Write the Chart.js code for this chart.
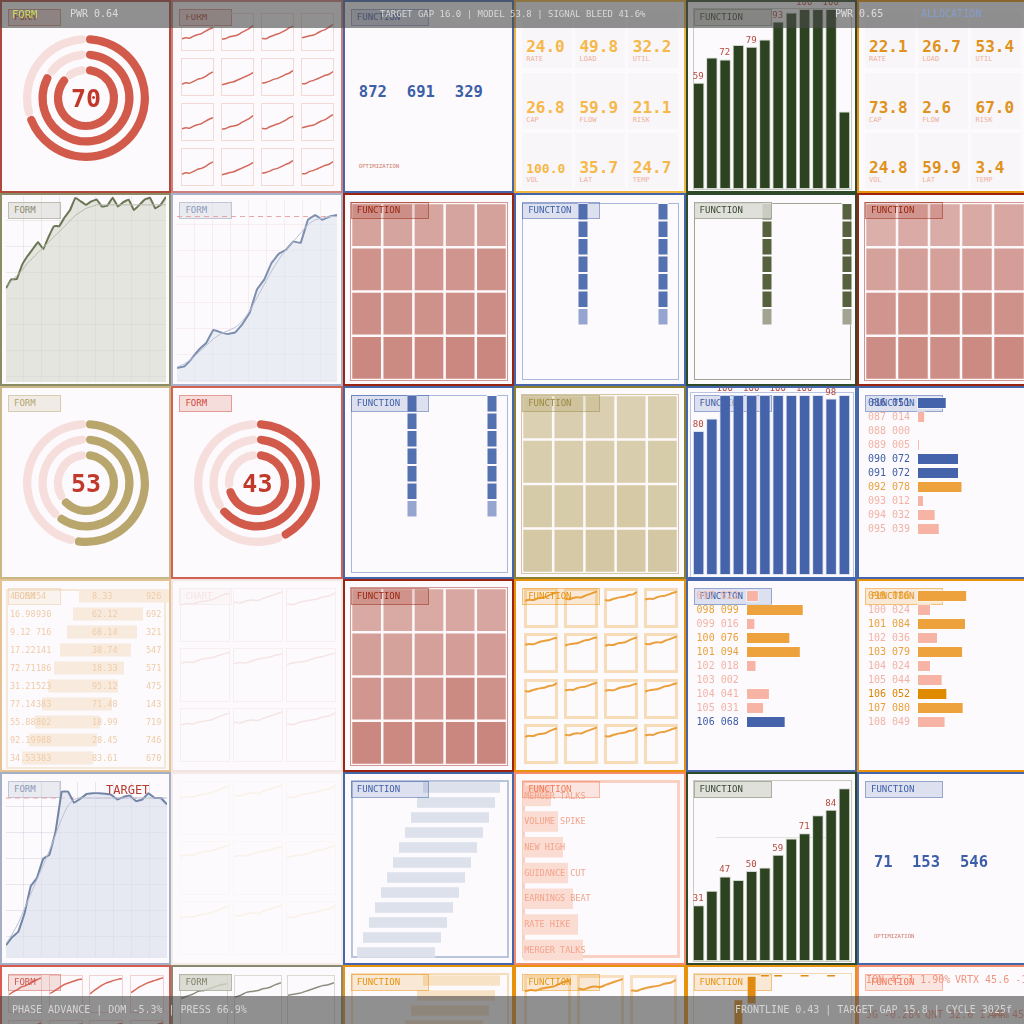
<!DOCTYPE html>
<html>
<head>
<meta charset="utf-8">
<title>Ops wall</title>
<script src="https://cdn.jsdelivr.net/npm/chart.js@4.4.1/dist/chart.umd.min.js"></script>
<style>
  html, body { margin: 0; padding: 0; }
  body { width: 1024px; height: 1024px; overflow: hidden; background: #f7f4f7; font-family: 'DejaVu Sans Mono', monospace; }
  #board { position: relative; width: 1024px; height: 1024px; overflow: hidden; }
  .panel { position: absolute; box-sizing: border-box; border: 2px solid #999; background: #fcfafc; overflow: hidden; }
  .body { position: absolute; left: 0; top: 0; right: 0; bottom: 0; }
  .tag { position: absolute; left: 6px; top: 7px; height: 17px; box-sizing: border-box; border: 1px solid; font-size: 9px; line-height: 15px; padding-left: 5px; white-space: nowrap; }
  .txt { position: absolute; white-space: nowrap; line-height: 1; }
  .strip { position: absolute; left: 0; width: 1024px; height: 28px; background: rgba(74, 74, 74, 0.6); }
</style>
</head>
<body>
<div id="board"></div>
<script>
// ---------- data ----------
const gaugeA = [70, 84, 88];
const gaugeB = [53, 61, 65];
const gaugeC = [43, 65, 72];

const barSlots = ['01', '02', '03', '04', '05', '06', '07', '08', '09', '10', '11', '12'];
const powerBars = [59, 73, 72, 80, 79, 83, 93, 98, 100, 100, 100, 43];
const loadBars = [80, 87, 100, 100, 100, 100, 100, 100, 100, 100, 98, 100];
const rampBars = [31, 39, 47, 45, 50, 52, 59, 68, 71, 81, 84, 96];
const stepFrom = [0, 22, 40, 60, 83, 98, 98, 99, 98, 99, 98, 99];
const stepTo = [22, 40, 60, 86, 99, 100, 100, 100, 100, 100, 100, 100];

const kpiNames = ['RATE', 'LOAD', 'UTIL', 'CAP', 'FLOW', 'RISK', 'VOL', 'LAT', 'TEMP'];
const kpiLeft = [24.0, 49.8, 32.2, 26.8, 59.9, 21.1, 100.0, 35.7, 24.7];
const kpiRight = [22.1, 26.7, 53.4, 73.8, 2.6, 67.0, 24.8, 59.9, 3.4];
const optTop = [872, 691, 329];
const optBottom = [71, 153, 546];

const formLine = [53, 58, 58, 66, 71, 75, 79, 75, 82, 88, 88, 93, 97, 104, 102, 100, 102, 103, 99, 99.5, 104, 99, 101.5, 103, 97, 100, 103, 104, 98, 100, 104.5];
const formTrend = [54, 57, 60, 63, 67, 70, 73, 76, 79, 82, 85, 88, 91, 94, 96, 98, 99, 100, 100, 100, 100, 100, 100, 100, 100, 100, 100, 100, 100, 100, 100];
const funcLine = [8.5, 9.5, 14, 19.5, 23.5, 31.5, 30, 29, 30, 35, 42, 56, 62, 72, 77.5, 80, 85, 84, 98, 101, 98, 100, 101];
const funcTrend = [9, 11, 14, 18, 22, 26, 29, 31, 33, 37, 43, 51, 59, 67, 74, 80, 85, 90, 95, 98, 99, 100, 100];
const rampLine = [8, 13, 16.5, 28, 45, 50, 62, 64.5, 79, 104, 104, 97, 99.5, 102.5, 103, 103, 102.7, 102, 99, 100.6, 101.5, 98, 99, 103, 100, 100, 96];
const rampTrend = [9, 15, 22, 31, 40, 49, 58, 67, 77, 87, 95, 99, 100, 100, 100, 100, 100, 100, 100, 100, 100, 100, 100, 100, 100, 100, 100];
const TARGET = 100;

const heatA = [[0.42, 0.40, 0.38, 0.40, 0.44], [0.66, 0.60, 0.62, 0.64, 0.70], [0.74, 0.70, 0.68, 0.72, 0.76], [0.84, 0.80, 0.82, 0.84, 0.86]];
const heatB = [[0.22, 0.28, 0.26, 0.30, 0.34], [0.44, 0.48, 0.46, 0.52, 0.50], [0.64, 0.66, 0.70, 0.72, 0.68], [0.76, 0.78, 0.74, 0.80, 0.82]];
const heatC = [[0.30, 0.32, 0.30, 0.34, 0.36], [0.48, 0.44, 0.46, 0.50, 0.52], [0.62, 0.64, 0.60, 0.80, 0.68], [0.84, 0.82, 0.80, 0.86, 0.88]];
const heatK = [[0.30, 0.34, 0.32, 0.30, 0.36], [0.40, 0.38, 0.42, 0.40, 0.44], [0.46, 0.44, 0.48, 0.50, 0.46], [0.52, 0.50, 0.54, 0.52, 0.56]];

const stripCounts = [7, 7];

const listAIds = ['086', '087', '088', '089', '090', '091', '092', '093', '094', '095'];
const listAVals = [51, 14, 0, 5, 72, 72, 78, 12, 32, 39];
const listAKinds = ['blue', 'pink', 'pink', 'pink', 'blue', 'blue', 'amber', 'pink', 'pink', 'pink'];
const listBIds = ['097', '098', '099', '100', '101', '102', '103', '104', '105', '106'];
const listBVals = [22, 99, 16, 76, 94, 18, 2, 41, 31, 68];
const listBKinds = ['pink', 'amber', 'pink', 'amber', 'amber', 'pink', 'pink', 'pink', 'pink', 'blue'];
const listCIds = ['099', '100', '101', '102', '103', '104', '105', '106', '107', '108'];
const listCVals = [86, 24, 84, 36, 79, 24, 44, 52, 80, 49];
const listCKinds = ['amber', 'pink', 'amber', 'pink', 'amber', 'pink', 'pink', 'deep', 'amber', 'pink'];

const tblRate = ['43.54', '16.98', '9.12', '17.22', '72.71', '31.21', '77.14', '55.88', '92.19', '34.53'];
const tblCount = ['54', '930', '716', '141', '186', '523', '383', '802', '988', '383'];
const tblScore = ['8.33', '62.12', '68.14', '38.74', '18.33', '95.12', '71.48', '18.99', '28.45', '83.61'];
const tblUnits = ['926', '692', '321', '547', '571', '475', '143', '719', '746', '670'];
const tblFrom = [79, 73, 67, 60, 54, 48, 42, 35, 29, 22];
const tblTo = [171, 143, 137, 131, 124, 118, 112, 100, 97, 93];

const ganttFrom = [80, 74, 68, 62, 56, 50, 44, 38, 32, 26, 20, 14];
const ganttTo = [157, 152, 146, 140, 134, 128, 122, 116, 110, 104, 98, 92];

const eventNames = ['MERGER TALKS', 'VOLUME SPIKE', 'NEW HIGH', 'GUIDANCE CUT', 'EARNINGS BEAT', 'RATE HIKE', 'MERGER TALKS'];
const eventImpact = [28, 35, 40, 45, 50, 55, 60];

const sparkRed = [
  [30, 33, 32, 38, 42, 45, 52, 58, 63], [29, 31, 36, 38, 41, 48, 54, 60, 69],
  [31, 30, 36, 40, 44, 49, 55, 62, 67], [33, 36, 39, 41, 47, 53, 57, 64, 72],
  [29, 33, 32, 37, 43, 46, 51, 59, 65], [27, 30, 34, 36, 41, 46, 51, 56, 63],
  [32, 34, 38, 43, 46, 51, 57, 61, 69], [30, 31, 37, 40, 45, 50, 55, 58, 66]
];
const sparkRedLate = [
  [48, 56, 62, 70, 74, 80, 86, 92, 97], [52, 58, 66, 74, 80, 84, 88, 92, 94],
  [50, 60, 68, 76, 82, 86, 90, 93, 95], [54, 62, 70, 76, 82, 86, 90, 94, 98]
];
const sparkAmber = [
  [70, 73, 72, 76, 78, 80, 85, 90, 93], [76, 74, 78, 80, 79, 84, 88, 92, 96],
  [72, 71, 75, 78, 80, 82, 86, 88, 94], [74, 76, 75, 80, 83, 84, 88, 92, 95],
  [73, 75, 74, 78, 82, 84, 86, 90, 92], [71, 74, 76, 77, 81, 85, 87, 91, 94]
];
const sparkGray = [
  [55, 60, 64, 70, 72, 76, 80, 84, 86], [58, 62, 68, 70, 72, 76, 78, 84, 88],
  [62, 64, 66, 70, 74, 78, 82, 84, 88]
];

const tickerTop = ['ION 45.1 1.90%', 'VRTX 45.6 -1.12%'];
const tickerLow = ['JG -0.28%', 'QNT 32.6 1.44%', 'AMK 45.2'];

// ---------- layout helpers ----------
const CW = 171.4, RH = 193;
const board = document.getElementById('board');
Chart.defaults.font.family = "'DejaVu Sans Mono', monospace";

function rgba(hex, a) {
  const n = parseInt(hex.slice(1), 16);
  return `rgba(${n >> 16}, ${(n >> 8) & 255}, ${n & 255}, ${a})`;
}
function shade(hex, v) {
  const n = parseInt(hex.slice(1), 16);
  const t = 0.36 + 0.34 * v;
  const mix = c => Math.round(255 - (255 - c) * t);
  return `rgb(${mix(n >> 16)}, ${mix((n >> 8) & 255)}, ${mix(n & 255)})`;
}

function makePanel(row, col, color, fade) {
  const p = document.createElement('div');
  p.className = 'panel';
  p.style.left = (col * CW) + 'px';
  p.style.top = (row * RH) + 'px';
  p.style.width = CW + 'px';
  p.style.height = RH + 'px';
  p.style.borderColor = color;
  board.appendChild(p);
  const b = document.createElement('div');
  b.className = 'body';
  if (fade != null) b.style.opacity = fade;
  p.appendChild(b);
  return b;
}
function place(node, x, y, w, h) {
  node.style.position = 'absolute';
  node.style.left = (x - 2) + 'px';
  node.style.top = (y - 2) + 'px';
  if (w != null) node.style.width = w + 'px';
  if (h != null) node.style.height = h + 'px';
}
function addCanvas(p, x, y, w, h) {
  const c = document.createElement('canvas');
  c.width = Math.round(w);
  c.height = Math.round(h);
  place(c, x, y, Math.round(w), Math.round(h));
  p.appendChild(c);
  return c;
}
function addText(p, s, x, y, size, color, weight) {
  const t = document.createElement('div');
  t.className = 'txt';
  t.textContent = s;
  place(t, x, y);
  t.style.fontSize = size + 'px';
  t.style.color = color;
  if (weight) t.style.fontWeight = weight;
  p.appendChild(t);
  return t;
}
function addTag(p, label, color, bg, textColor) {
  const t = document.createElement('div');
  t.className = 'tag';
  t.textContent = label;
  t.style.width = (label.length > 5 ? 78 : 53) + 'px';
  t.style.color = textColor || color;
  t.style.borderColor = rgba(color, 0.45);
  t.style.background = bg || rgba(color, 0.16);
  p.appendChild(t);
}
function addBox(p, x, y, w, h, border, fill) {
  const d = document.createElement('div');
  place(d, x, y, w, h);
  d.style.boxSizing = 'border-box';
  if (border) d.style.border = border;
  if (fill) d.style.background = fill;
  p.appendChild(d);
  return d;
}
function opts(extra) {
  return Object.assign({
    responsive: false, animation: false, devicePixelRatio: 1, events: [],
    layout: { padding: 0 },
    plugins: { legend: { display: false }, tooltip: { enabled: false } }
  }, extra);
}

// ---------- chart builders ----------
function drawGauge(p, vals, color, cx, cy) {
  const c = addCanvas(p, cx - 66, cy - 66, 132, 132);
  const datasets = [];
  vals.forEach((v, i) => {
    datasets.push({ data: [v, 100 - v], backgroundColor: [color, '#f6dedc'], borderWidth: 0, borderRadius: 4, weight: 8 });
    if (i < vals.length - 1) datasets.push({ data: [0, 100], backgroundColor: ['rgba(0,0,0,0)', 'rgba(0,0,0,0)'], borderWidth: 0, weight: 7 });
  });
  new Chart(c, { type: 'doughnut', data: { labels: ['value', 'rest'], datasets }, options: opts({ cutout: 25, radius: 63 }) });
  const t = addText(p, String(vals[0]), cx, cy, 25, '#c0392b', 'bold');
  t.style.transform = 'translate(-50%, -50%)';
}

function drawBars(p, vals, color, edge) {
  const c = addCanvas(p, 6, 9, 159, 180);
  const chart = new Chart(c, {
    type: 'bar',
    data: { labels: barSlots, datasets: [{ data: vals, backgroundColor: color, borderColor: edge, borderWidth: 1, borderSkipped: false, barPercentage: 0.87, categoryPercentage: 1 }] },
    options: opts({ scales: { x: { display: false }, y: { display: false, min: 0, max: 100 } } })
  });
  const meta = chart.getDatasetMeta(0);
  vals.forEach((v, i) => {
    if (i % 2) return;
    const bar = meta.data[i];
    const t = addText(p, String(v), 6 + bar.x, 9 + bar.y - 11, 9, '#b5483c');
    t.style.transform = 'translateX(-50%)';
  });
}

function drawSteps(p, from, to, color) {
  const c = addCanvas(p, 6, 9, 159, 180);
  new Chart(c, {
    type: 'bar',
    data: { labels: barSlots, datasets: [{ data: from.map((f, i) => [f, to[i]]), backgroundColor: color, borderColor: 'rgba(255,255,255,0.5)', borderWidth: 1, borderSkipped: false, barPercentage: 0.75, categoryPercentage: 1 }] },
    options: opts({ scales: { x: { display: false }, y: { display: false, min: 0, max: 100 } } })
  });
}

function drawHeat(p, rows, base, x, y, w, h) {
  addBox(p, x - 1, y - 1, w + 2, h + 2, '1px solid ' + rgba(base, 0.55));
  const c = addCanvas(p, x, y, w, h);
  const datasets = rows.slice().reverse().map(r => ({
    data: r.map(() => 1), backgroundColor: r.map(v => shade(base, v)),
    borderColor: '#fdf8fa', borderWidth: 1.6, borderSkipped: false, barPercentage: 1, categoryPercentage: 1
  }));
  new Chart(c, {
    type: 'bar',
    data: { labels: rows[0].map((_, i) => 'C' + i), datasets },
    options: opts({ scales: { x: { display: false, stacked: true }, y: { display: false, stacked: true, min: 0, max: rows.length } } })
  });
}

function drawStrips(p, counts, color, faded, x, y) {
  const c = addCanvas(p, x, y, 160, 175);
  const maxN = Math.max(...counts);
  const datasets = [];
  for (let k = 0; k < maxN; k++) {
    datasets.push({ data: counts.map(n => (k < n ? 1 : 0)), backgroundColor: k === maxN - 1 ? faded : color, borderColor: '#fcfafc', borderWidth: 1, borderSkipped: false, barPercentage: 0.1375, categoryPercentage: 1 });
  }
  new Chart(c, {
    type: 'bar',
    data: { labels: counts.map((_, i) => 'S' + i), datasets },
    options: opts({ scales: { x: { display: false, stacked: true }, y: { display: false, stacked: true, reverse: true, min: 0, max: 10 } } })
  });
}

const LIST_FILL = { blue: '#4563ab', pink: '#f7b3a4', amber: '#eea23e', deep: '#e08a00' };
const LIST_TEXT = { blue: '#3d5ea8', pink: '#f2b3a6', amber: '#e9a23c', deep: '#d98600' };
function drawList(p, ids, vals, kinds) {
  const c = addCanvas(p, 60, 9.5, 70, 140);
  new Chart(c, {
    type: 'bar',
    data: { labels: ids, datasets: [{ data: vals, backgroundColor: kinds.map(k => LIST_FILL[k]), borderColor: 'rgba(255,255,255,0.55)', borderWidth: 1, borderSkipped: false, barPercentage: 0.85, categoryPercentage: 1 }] },
    options: opts({ indexAxis: 'y', scales: { x: { display: false, min: 0, max: 120 }, y: { display: false } } })
  });
  ids.forEach((id, i) => addText(p, id + ' ' + String(vals[i]).padStart(3, '0'), 11, 11.5 + 14 * i, 10, LIST_TEXT[kinds[i]]));
}

function drawLine(p, x, y, w, h, main, trend, o) {
  const grid = addBox(p, x, y, w, h);
  grid.style.backgroundImage = `linear-gradient(to right, ${o.grid} 1px, transparent 1px), linear-gradient(to bottom, ${o.grid} 1px, transparent 1px)`;
  grid.style.backgroundSize = '18px 26px';
  grid.style.backgroundPosition = '17px 24px';
  const c = addCanvas(p, x, y, w, h);
  const datasets = [
    { data: trend, borderColor: o.trend, borderWidth: 1, pointRadius: 0, tension: 0.3, fill: false },
    { data: main, borderColor: o.color, borderWidth: 2, pointRadius: 0, tension: 0.05, fill: 'origin', backgroundColor: o.fill }
  ];
  if (o.target) datasets.push({ data: main.map(() => TARGET), borderColor: '#e9a4a2', borderWidth: 1, borderDash: [5, 4], pointRadius: 0, fill: false });
  new Chart(c, {
    type: 'line',
    data: { labels: main.map((_, i) => i), datasets },
    options: opts({ scales: { x: { display: false }, y: { display: false, min: 0, max: o.max } } })
  });
}

function drawTiles(p, o) {
  let k = 0;
  for (let r = 0; r < o.rows; r++) {
    for (let c = 0; c < o.cols; c++) {
      const x = o.x0 + c * o.gx, y = o.y0 + r * o.gy;
      addBox(p, x, y, o.tw, o.th, o.boxW + 'px solid ' + o.box);
      const cv = addCanvas(p, x + 1, y + 2, o.tw - 2, o.th - 4);
      const s = o.series[k++ % o.series.length];
      new Chart(cv, {
        type: 'line',
        data: { labels: s.map((_, i) => i), datasets: [{ data: s, borderColor: o.color, borderWidth: o.lineW || 1.5, pointRadius: 0, tension: 0.2, fill: false }] },
        options: opts({ scales: { x: { display: false }, y: { display: false, min: 0, max: 100 } } })
      });
    }
  }
}

function drawGantt(p, from, to, color) {
  const c = addCanvas(p, 0, 7.5, 171, 180);
  new Chart(c, {
    type: 'bar',
    data: { labels: from.map((_, i) => 'T' + i), datasets: [{ data: from.map((f, i) => [f, to[i]]), backgroundColor: color, borderWidth: 0, barPercentage: 0.7, categoryPercentage: 1 }] },
    options: opts({ indexAxis: 'y', scales: { x: { display: false, min: 0, max: 171 }, y: { display: false } } })
  });
}

function drawKpiGrid(p, vals, valColor, nameColor) {
  vals.forEach((v, i) => {
    const col = i % 3, row = Math.floor(i / 3);
    addBox(p, 8 + col * 53, 12 + row * 60.5, 50, 56, null, '#f8f6f8');
    const s = v.toFixed(1);
    const size = Math.min(16, Math.floor(40 / (s.length * 0.602)));
    addText(p, s, 12 + col * 53.3, 47 + row * 60.5 - size / 2, size, valColor, 'bold');
    addText(p, kpiNames[i], 12 + col * 53.3, 56 + row * 60.5, 7, nameColor);
  });
}

// ---------- row 0 ----------
let p = makePanel(0, 0, '#b0483c');
addTag(p, 'FORM', '#c0392b');
drawGauge(p, gaugeA, '#d25a4b', 86, 98);

p = makePanel(0, 1, '#d08078');
addTag(p, 'FORM', '#c0392b');
drawTiles(p, { cols: 4, rows: 4, x0: 10, y0: 13, gx: 40, gy: 45, tw: 33, th: 38, series: sparkRed, color: '#d2695c', box: '#f4d8d4', boxW: 1.5 });

p = makePanel(0, 2, '#4566aa');
addTag(p, 'FUNCTION', '#3d5ea8');
[16, 64, 112].forEach((x, i) => addText(p, String(optTop[i]), x, 85, 15.5, '#3d5ea8', 'bold'));
addText(p, 'OPTIMIZATION', 16, 164, 5.6, '#d07a6c');

p = makePanel(0, 3, '#f0b440');
drawKpiGrid(p, kpiLeft, '#f6b849', '#eeb0a0');

p = makePanel(0, 4, '#2f4a28');
addBox(p, 7, 8, 159, 182, '1px solid #c8ccc0');
drawBars(p, powerBars, '#2c4220', 'rgba(200,210,195,0.8)');
addTag(p, 'FUNCTION', '#6a7060', 'rgba(218,220,212,0.88)', '#3c4634');

p = makePanel(0, 5, '#e8900c');
drawKpiGrid(p, kpiRight, '#e0921c', '#eeb0a0');

// ---------- row 1 ----------
p = makePanel(1, 0, '#8c8c64');
addTag(p, 'FORM', '#8a8a70');
drawLine(p, 6, 3, 160, 186, formLine, formTrend, { color: '#6b7655', trend: '#b4b8a8', fill: 'rgba(210,212,198,0.55)', grid: 'rgba(170,170,160,0.2)', max: 105 });
addText(p, '100.0', 13, 206, 12, '#c0392b', 'bold');

p = makePanel(1, 1, '#a8b0cc');
addTag(p, 'FORM', '#8d9ab8');
drawLine(p, 6, 7, 160, 182, funcLine, funcTrend, { color: '#7d8fb0', trend: '#b8c0d4', fill: 'rgba(220,225,237,0.55)', grid: 'rgba(232,200,208,0.25)', max: 110, target: true });
addText(p, 'TARGET', 106, 203, 12, '#b83c30');

p = makePanel(1, 2, '#9a2410');
drawHeat(p, heatA, '#ad473b', 8, 10, 156, 177);
addTag(p, 'FUNCTION', '#9a2410');

p = makePanel(1, 3, '#4566aa');
addBox(p, 8, 10, 157, 177, '1px solid #a8b8dc');
drawStrips(p, stripCounts, '#5471b0', '#95a5cf', 29, 10);
addTag(p, 'FUNCTION', '#3d5ea8');

p = makePanel(1, 4, '#2f4a28');
addBox(p, 8, 10, 157, 177, '1px solid #a0a490');
drawStrips(p, stripCounts, '#56613e', '#a2a492', 41, 10);
addTag(p, 'FUNCTION', '#6a7060', 'rgba(218,220,212,0.88)', '#3c4634');

p = makePanel(1, 5, '#9a2410');
drawHeat(p, heatB, '#ad473b', 8, 10, 160, 177);
addTag(p, 'FUNCTION', '#9a2410');

// ---------- row 2 ----------
p = makePanel(2, 0, '#c8b888');
addTag(p, 'FORM', '#b5a66e');
drawGauge(p, gaugeB, '#b9a66c', 86, 97);

p = makePanel(2, 1, '#d46050');
addTag(p, 'FORM', '#d24a3a');
drawGauge(p, gaugeC, '#d25a4b', 86, 97);

p = makePanel(2, 2, '#4566aa');
addBox(p, 8, 9, 157, 178, '1px solid #a8b8dc');
drawStrips(p, stripCounts, '#5471b0', '#95a5cf', 29, 9);
addTag(p, 'FUNCTION', '#3d5ea8');

p = makePanel(2, 3, '#8a8030');
drawHeat(p, heatK, '#b09a58', 8, 9, 156, 178);
addTag(p, 'FUNCTION', '#9a8a40');

p = makePanel(2, 4, '#4566aa');
addBox(p, 4, 6, 164, 186, '1px solid #b8c4e0');
addTag(p, 'FUNCTION', '#3d5ea8');
drawBars(p, loadBars, '#4563ab', 'rgba(215,222,240,0.8)');

p = makePanel(2, 5, '#4566aa');
addTag(p, 'FUNCTION', '#3d5ea8');
drawList(p, listAIds, listAVals, listAKinds);

// ---------- row 3 ----------
p = makePanel(3, 0, '#e4c292', 0.6);
addBox(p, 6, 10, 160, 180, '2px solid #f0dcc0');
const tc = addCanvas(p, 0, 8, 171, 180);
new Chart(tc, {
  type: 'bar',
  data: { labels: tblRate, datasets: [{ data: tblFrom.map((f, i) => [f, tblTo[i]]), backgroundColor: '#f6e2ca', borderWidth: 0, barPercentage: 0.72, categoryPercentage: 1 }] },
  options: opts({ indexAxis: 'y', scales: { x: { display: false, min: 0, max: 171 }, y: { display: false } } })
});
addTag(p, 'FORM', '#e0a860');
tblRate.forEach((v, i) => {
  const y = 12.5 + 18 * i;
  addText(p, v, 10, y, 8.5, '#e6ac70');
  addText(p, tblCount[i], 36, y, 8.5, '#e6ac70');
  addText(p, tblScore[i], 92, y, 8.5, '#e6ac70');
  addText(p, tblUnits[i], 146, y, 8.5, '#e6ac70');
});

p = makePanel(3, 1, '#f2e4e4', 0.14);
addTag(p, 'CHART', '#d0574a');
drawTiles(p, { cols: 3, rows: 3, x0: 9, y0: 9, tw: 50, th: 54, gx: 53, gy: 60, series: sparkAmber, color: '#d2695c', box: '#d8a8a0', boxW: 1.5 });

p = makePanel(3, 2, '#9a2410');
drawHeat(p, heatC, '#ad473b', 8, 9, 156, 177);
addTag(p, 'FUNCTION', '#9a2410');

p = makePanel(3, 3, '#e8920c');
drawTiles(p, { cols: 4, rows: 4, x0: 10, y0: 9, tw: 34, th: 40, gx: 40, gy: 45.3, series: sparkAmber, color: '#eaa03c', box: '#f6dcb8', boxW: 3, lineW: 2 });
addTag(p, 'FUNCTION', '#e8920c');

p = makePanel(3, 4, '#4566aa');
addTag(p, 'FUNCTION', '#3d5ea8');
drawList(p, listBIds, listBVals, listBKinds);

p = makePanel(3, 5, '#e8920c');
addTag(p, 'FUNCTION', '#e8920c');
drawList(p, listCIds, listCVals, listCKinds);

// ---------- row 4 ----------
p = makePanel(4, 0, '#a4aec4');
addTag(p, 'FORM', '#8d9ab8');
drawLine(p, 6, 10, 161, 176, rampLine, rampTrend, { color: '#7385a6', trend: '#b8c0d4', fill: 'rgba(220,225,237,0.65)', grid: 'rgba(170,178,200,0.28)', max: 110, target: true });
addText(p, 'TARGET', 106, 12, 12, '#b83c30');

p = makePanel(4, 1, '#f4ece4', 0.1);
drawTiles(p, { cols: 3, rows: 3, x0: 9, y0: 9, tw: 50, th: 54, gx: 53, gy: 60, series: sparkAmber, color: '#eaa03c', box: '#f0d8c0', boxW: 1.5 });

p = makePanel(4, 2, '#4566aa');
addBox(p, 8, 8, 158, 178, '2px solid #b8c4de');
drawGantt(p, ganttFrom, ganttTo, '#dde1ec');
addTag(p, 'FUNCTION', '#3d5ea8');

p = makePanel(4, 3, '#f58a68');
addBox(p, 8, 8, 158, 178, '3px solid #f9d0c2');
const ec = addCanvas(p, 9, 11, 100, 180);
new Chart(ec, {
  type: 'bar',
  data: { labels: eventNames, datasets: [{ data: eventImpact, backgroundColor: '#fbdcd2', borderWidth: 0, barPercentage: 0.8, categoryPercentage: 1 }] },
  options: opts({ indexAxis: 'y', scales: { x: { display: false, min: 0, max: 100 }, y: { display: false } } })
});
addTag(p, 'FUNCTION', '#f27a58');
eventNames.forEach((n, i) => addText(p, n, 10, 19.5 + 25.7 * i, 8.5, '#f2a48c'));

p = makePanel(4, 4, '#2f4a28');
addBox(p, 7, 8, 159, 182, '1px solid #c8ccc0');
addBox(p, 30, 65, 110, 1, null, 'rgba(200,205,200,0.5)');
drawBars(p, rampBars, '#2c4220', 'rgba(200,210,195,0.8)');
addTag(p, 'FUNCTION', '#6a7060', 'rgba(218,220,212,0.88)', '#3c4634');

p = makePanel(4, 5, '#4566aa');
addTag(p, 'FUNCTION', '#3d5ea8');
[17, 55, 103].forEach((x, i) => addText(p, String(optBottom[i]), x, 83, 15.5, '#3d5ea8', 'bold'));
addText(p, 'OPTIMIZATION', 17, 162, 5.6, '#d07a6c');

// ---------- row 5 ----------
p = makePanel(5, 0, '#d85a50');
drawTiles(p, { cols: 4, rows: 2, x0: 8, y0: 10, gx: 40.5, gy: 45, tw: 34, th: 38, series: sparkRedLate, color: '#d8685a', box: '#f2d2ce', boxW: 1.5 });
addTag(p, 'FORM', '#d0574a');

p = makePanel(5, 1, '#8a8a70');
drawTiles(p, { cols: 3, rows: 2, x0: 9, y0: 10, gx: 53.5, gy: 60, tw: 48, th: 52, series: sparkGray, color: '#8d8d80', box: '#dadad2', boxW: 1.5 });
addTag(p, 'FORM', '#8a8a70', 'rgba(210,212,200,0.8)', '#80806a');

p = makePanel(5, 2, '#e8920c');
addBox(p, 8, 8, 158, 178, '2px solid #f6dcb8');
drawGantt(p, ganttFrom, ganttTo, '#f8e2c6');
addTag(p, 'FUNCTION', '#e8920c');

p = makePanel(5, 3, '#e8920c');
drawTiles(p, { cols: 3, rows: 2, x0: 10, y0: 10, gx: 53, gy: 60, tw: 47, th: 52, series: sparkAmber, color: '#eaa03c', box: '#f8e0c0', boxW: 3, lineW: 2 });
addTag(p, 'FUNCTION', '#e8920c');

p = makePanel(5, 4, '#e8920c');
addBox(p, 7, 8, 159, 182, '1px solid #f0d8b8');
addTag(p, 'FUNCTION', '#e8920c');
drawSteps(p, stepFrom, stepTo, '#e08a10');

p = makePanel(5, 5, '#f58a68');
addTag(p, 'FUNCTION', '#f27a58');
addText(p, tickerTop[0], 9, 10, 10, '#f0957e');
addText(p, tickerTop[1], 98, 10, 10, '#f0957e');
[9, 68, 131].forEach((x, i) => addText(p, tickerLow[i], x, 45, 10, '#f0957e'));

// ---------- status strips ----------
function addStrip(y, items) {
  const s = document.createElement('div');
  s.className = 'strip';
  s.style.top = y + 'px';
  board.appendChild(s);
  items.forEach(([text, x, size, color]) => {
    const t = document.createElement('div');
    t.className = 'txt';
    t.textContent = text;
    t.style.left = x + 'px';
    t.style.top = (14 - size / 2) + 'px';
    t.style.fontSize = size + 'px';
    t.style.color = color;
    s.appendChild(t);
  });
}
addStrip(0, [
  ['FORM', 12, 10.5, '#c8dc5a'],
  ['PWR 0.64', 70, 10, '#dcdcdc'],
  ['TARGET GAP 16.0 | MODEL 53.8 | SIGNAL BLEED 41.6%', 380, 9, '#d8d8d8'],
  ['PWR 0.65', 835, 10, '#dcdcdc'],
  ['ALLOCATION', 921, 10, 'rgba(130,160,220,0.8)']
]);
addStrip(996, [
  ['PHASE ADVANCE | DOM -5.3% | PRESS 66.9%', 12, 10, '#d4d4d4'],
  ['FRONTLINE 0.43 | TARGET GAP 15.8 | CYCLE 3025f', 735, 10, '#d4d4d4']
]);
</script>
</body>
</html>
